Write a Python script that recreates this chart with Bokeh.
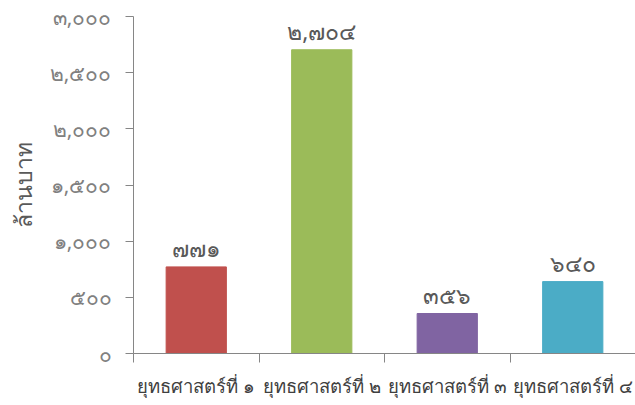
from bokeh.plotting import figure
from bokeh.models import ColumnDataSource, Range1d, CategoricalAxis, FixedTicker, FactorRange
from bokeh.embed import file_html
from bokeh.resources import INLINE
from bokeh.core.properties import value

categories = ["ยุทธศาสตร์ที่ ๑", "ยุทธศาสตร์ที่ ๒", "ยุทธศาสตร์ที่ ๓", "ยุทธศาสตร์ที่ ๔"]
amounts = [771, 2704, 356, 640]
amount_labels = ["๗๗๑", "๒,๗๐๔", "๓๕๖", "๖๔๐"]
bar_colors = ["#C0504D", "#9BBB59", "#8064A2", "#4BACC6"]
y_ticks = [0, 500, 1000, 1500, 2000, 2500, 3000]
y_tick_labels = ["๐", "๕๐๐", "๑,๐๐๐", "๑,๕๐๐", "๒,๐๐๐", "๒,๕๐๐", "๓,๐๐๐"]
y_title = "ล้านบาท"

FONT = "Noto Sans"
GREY_LINE = "#868686"
TXT = "#595959"

src = ColumnDataSource(dict(cat=categories, val=amounts, lab=amount_labels, col=bar_colors))

p = figure(x_range=FactorRange(*categories), y_range=Range1d(0, 3000),
           frame_width=502, frame_height=337,
           min_border_left=133, min_border_top=16, min_border_right=0, min_border_bottom=36,
           output_backend="svg", toolbar_location=None, x_axis_location=None,
           background_fill_color="white", border_fill_color="white", outline_line_color=None)
p.grid.visible = False

p.vbar(x="cat", top="val", width=0.48, color="col", source=src)
p.text(x="cat", y="val", text="lab", source=src, text_align="center", text_baseline="bottom",
       y_offset=-3, text_font=value(FONT), text_font_size="23px", text_color=TXT)

ya = p.yaxis[0]
ya.ticker = FixedTicker(ticks=y_ticks)
ya.major_label_overrides = {t: l for t, l in zip(y_ticks, y_tick_labels)}
ya.axis_line_color = GREY_LINE
ya.major_tick_line_color = GREY_LINE
ya.minor_tick_line_color = None
ya.major_tick_in = 0
ya.major_tick_out = 8
ya.major_label_standoff = 14
ya.major_label_text_font = FONT
ya.major_label_text_font_size = "21px"
ya.major_label_text_color = "#808080"
ya.axis_label = y_title
ya.axis_label_text_font = FONT
ya.axis_label_text_font_size = "23px"
ya.axis_label_text_font_style = "normal"
ya.axis_label_text_color = TXT
ya.axis_label_standoff = 8

# axis line with ticks at category boundaries (synthetic coordinates)
tick_axis = CategoricalAxis(ticker=FixedTicker(ticks=list(range(len(categories) + 1))))
tick_axis.axis_line_color = GREY_LINE
tick_axis.major_tick_line_color = GREY_LINE
tick_axis.major_tick_in = 0
tick_axis.major_tick_out = 9
tick_axis.major_label_text_font_size = "0px"
tick_axis.major_label_text_alpha = 0
tick_axis.major_label_standoff = 0
p.add_layout(tick_axis, "below")

lab_axis = CategoricalAxis()
lab_axis.axis_line_color = None
lab_axis.major_tick_line_color = None
lab_axis.major_tick_out = 0
lab_axis.major_tick_in = 0
lab_axis.major_label_standoff = 10
lab_axis.major_label_text_font = FONT
lab_axis.major_label_text_font_size = "18.5px"
lab_axis.major_label_text_color = "#404040"
p.add_layout(lab_axis, "below")

open("out.html", "w").write(file_html(p, INLINE))
